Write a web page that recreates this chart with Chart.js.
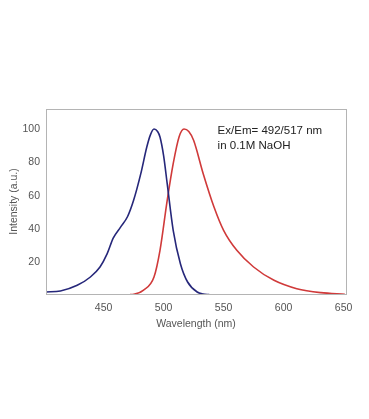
<!DOCTYPE html>
<html>
<head>
<meta charset="utf-8">
<script src="https://cdn.jsdelivr.net/npm/chart.js@4/dist/chart.umd.min.js"></script>
<style>
  html, body { margin: 0; padding: 0; background: #fff; }
  #wrap { width: 369px; height: 419px; }
</style>
</head>
<body>
<div id="wrap"><canvas id="c"></canvas></div>
<script>
// excitation (blue) curve
const exWave = [402, 414, 428, 439, 447, 453, 458, 464, 470, 475, 481, 486, 489, 492, 495, 497, 500, 503, 508, 514, 520, 528, 533, 538];
const exVal  = [2.2, 2.8, 6.2, 11.2, 17.2, 25.2, 34.5, 41.0, 47.5, 57.2, 73.2, 89.2, 96.5, 100, 98.5, 95.2, 84, 67.2, 39.2, 19.2, 8.2, 2.2, 1.0, 0.6];

// emission (red) curve
const emWave = [472, 475, 483, 492, 497, 503, 508, 513, 517, 521, 525, 533, 542, 550, 561, 575, 592, 611, 631, 651];
const emVal  = [0.6, 0.8, 3.2, 11.2, 27.2, 57.2, 79.2, 95.5, 100, 98.5, 93.2, 73.2, 53.2, 39.2, 27.2, 17.2, 9.2, 4.2, 1.8, 0.8];

const xTicks = [450, 500, 550, 600, 650];
const yTicks = [20, 40, 60, 80, 100];
const noteLines = ['Ex/Em= 492/517 nm', 'in 0.1M NaOH'];

const tickColor = '#555';
const font = 'Liberation Sans, Arial, sans-serif';

const pts = (xs, ys) => xs.map((x, i) => ({ x: x, y: ys[i] }));

const boxAndNote = {
    id: 'boxAndNote',
    afterDraw(chart) {
        const ctx = chart.ctx, a = chart.chartArea;
        ctx.save();
        ctx.strokeStyle = '#b4b4b4';
        ctx.lineWidth = 1;
        ctx.strokeRect(a.left + 0.5, a.top + 0.5, a.right - a.left, a.bottom - a.top);
        ctx.fillStyle = '#222';
        ctx.font = '11.5px ' + font;
        ctx.textBaseline = 'middle';
        const x = chart.scales.x.getPixelForValue(545);
        const y = chart.scales.y.getPixelForValue(99.2);
        noteLines.forEach((t, i) => ctx.fillText(t, x, y + i * 15));
        ctx.restore();
    }
};

new Chart(document.getElementById('c'), {
    type: 'line',
    data: {
        datasets: [
            { data: pts(exWave, exVal), borderColor: '#26277a', borderWidth: 1.6, pointRadius: 0, cubicInterpolationMode: 'monotone', fill: false },
            { data: pts(emWave, emVal), borderColor: '#d03a3a', borderWidth: 1.6, pointRadius: 0, cubicInterpolationMode: 'monotone', fill: false }
        ]
    },
    options: {
        responsive: true,
        maintainAspectRatio: false,
        animation: false,
        layout: { padding: { left: 0, right: 23, top: 109, bottom: 85 } },
        plugins: { legend: { display: false }, tooltip: { enabled: false } },
        scales: {
            x: {
                type: 'linear', min: 402, max: 652,
                afterBuildTicks: s => { s.ticks = xTicks.map(v => ({ value: v })); },
                afterFit: s => { s.height = 40; },
                grid: { display: false, drawTicks: false },
                border: { display: false },
                ticks: { color: tickColor, font: { family: font, size: 10.5 }, padding: 8, maxRotation: 0 },
                title: { display: true, text: 'Wavelength (nm)', color: tickColor, font: { family: font, size: 10.5 }, padding: { top: 0 } }
            },
            y: {
                min: 1, max: 112,
                afterBuildTicks: s => { s.ticks = yTicks.map(v => ({ value: v })); },
                afterFit: s => { s.width = 46; },
                grid: { display: false, drawTicks: false },
                border: { display: false },
                ticks: { color: tickColor, font: { family: font, size: 10.5 }, padding: 6 },
                title: { display: true, text: 'Intensity (a.u.)', color: tickColor, font: { family: font, size: 10.5 }, padding: { top: 8, bottom: 0 } }
            }
        }
    },
    plugins: [boxAndNote]
});
</script>
</body>
</html>
